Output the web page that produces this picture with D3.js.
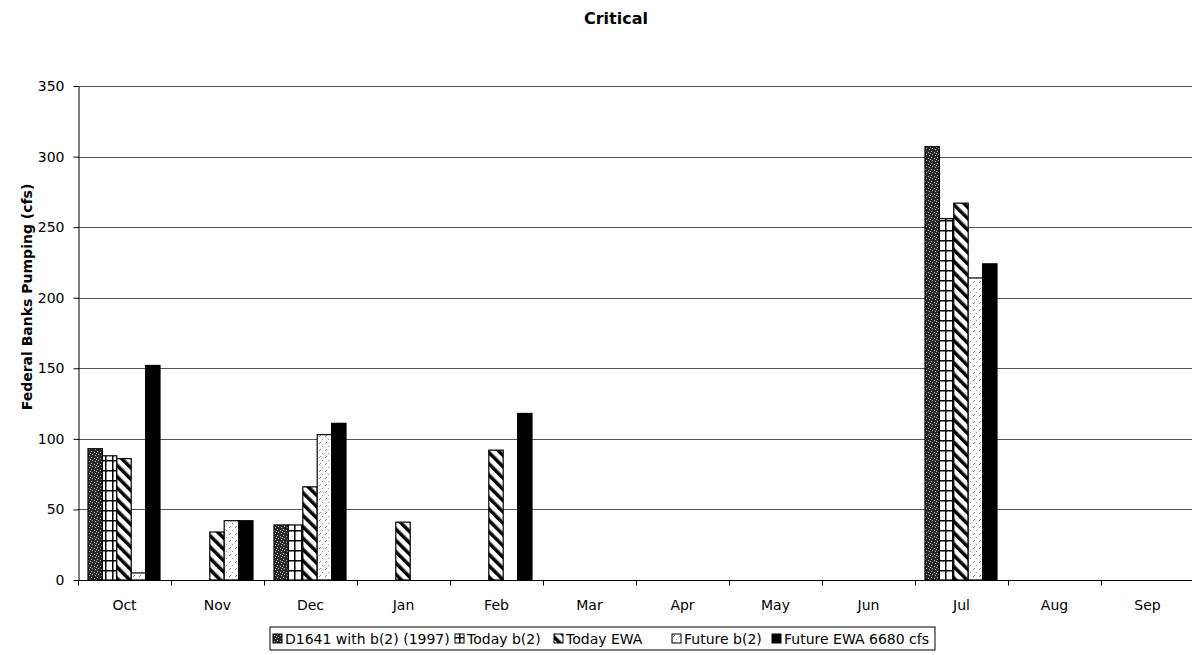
<!DOCTYPE html>
<html>
<head>
<meta charset="utf-8">
<script src="https://cdn.jsdelivr.net/npm/d3@7/dist/d3.min.js"></script>
<style>
  body { margin: 0; background: #fff; }
  svg { display: block; font-family: "DejaVu Sans", Arial, sans-serif; }
</style>
</head>
<body>
<svg id="chart"></svg>
<script>
// Months on the x axis
const months = ['Oct', 'Nov', 'Dec', 'Jan', 'Feb', 'Mar', 'Apr', 'May', 'Jun', 'Jul', 'Aug', 'Sep'];
const seriesNames = ['D1641 with b(2) (1997)', 'Today b(2)', 'Today EWA', 'Future b(2)', 'Future EWA 6680 cfs'];

// Values (cfs)
const d1641 = [93, 0, 39, 0, 0, 0, 0, 0, 0, 307, 0, 0];
const todayB2 = [88, 0, 39, 0, 0, 0, 0, 0, 0, 256, 0, 0];
const todayEWA = [86, 34, 66, 41, 92, 0, 0, 0, 0, 267, 0, 0];
const futureB2 = [5, 42, 103, 0, 0, 0, 0, 0, 0, 214, 0, 0];
const futureEWA = [152, 42, 111, 0, 118, 0, 0, 0, 0, 224, 0, 0];
const yTicks = [0, 50, 100, 150, 200, 250, 300, 350];

const allSeries = [d1641, todayB2, todayEWA, futureB2, futureEWA];

function drawChart() {
    const svg = d3.select('#chart');
    svg.selectAll('*').remove();

    const width = 1192;
    const height = 655;
    const margin = { top: 86, right: -2, bottom: 75, left: 78 };

    svg.attr('width', width).attr('height', height);

    // Fill patterns, one per series
    const defs = svg.append('defs');

    // dark stipple
    const p0 = defs.append('pattern').attr('id', 'pat0')
        .attr('patternUnits', 'userSpaceOnUse').attr('width', 6).attr('height', 6);
    p0.append('rect').attr('width', 6).attr('height', 6).attr('fill', '#2a2a2a');
    [[1, 1], [4, 2], [2, 4], [5, 5], [0, 3]].forEach(([px, py]) => {
        p0.append('rect').attr('x', px).attr('y', py).attr('width', 1).attr('height', 1).attr('fill', '#bbb');
    });

    // grid squares
    const p1 = defs.append('pattern').attr('id', 'pat1')
        .attr('patternUnits', 'userSpaceOnUse').attr('width', 7).attr('height', 10);
    p1.append('rect').attr('width', 7).attr('height', 10).attr('fill', '#fff');
    p1.append('rect').attr('x', 0).attr('y', 0).attr('width', 7).attr('height', 1.5).attr('fill', '#000');
    p1.append('rect').attr('x', 0).attr('y', 0).attr('width', 1.5).attr('height', 10).attr('fill', '#000');

    // diagonal hatch "\"
    const p2 = defs.append('pattern').attr('id', 'pat2')
        .attr('patternUnits', 'userSpaceOnUse').attr('width', 8).attr('height', 8)
        .attr('patternTransform', 'rotate(-45)');
    p2.append('rect').attr('width', 8).attr('height', 8).attr('fill', '#fff');
    p2.append('rect').attr('x', 0).attr('y', 0).attr('width', 3.5).attr('height', 8).attr('fill', '#000');

    // light dotted
    const p3 = defs.append('pattern').attr('id', 'pat3')
        .attr('patternUnits', 'userSpaceOnUse').attr('width', 6).attr('height', 7);
    p3.append('rect').attr('width', 6).attr('height', 7).attr('fill', '#fff');
    p3.append('line').attr('x1', 1).attr('y1', 3).attr('x2', 3).attr('y2', 1)
        .attr('stroke', '#888').attr('stroke-width', 1);
    p3.append('rect').attr('x', 4).attr('y', 5).attr('width', 1).attr('height', 1).attr('fill', '#999');

    const fills = ['url(#pat0)', 'url(#pat1)', 'url(#pat2)', 'url(#pat3)', '#000'];

    // Scales
    const x = d3.scaleBand()
        .domain(months)
        .range([margin.left, width - margin.right])
        .paddingInner(0)
        .paddingOuter(0);

    const xs = d3.scaleBand()
        .domain(d3.range(seriesNames.length))
        .range([10, x.bandwidth() - 11])
        .padding(0);

    const y = d3.scaleLinear()
        .domain([0, 350])
        .range([height - margin.bottom, margin.top]);

    // Gridlines
    svg.append('g')
        .selectAll('line')
        .data(yTicks.filter(d => d > 0))
        .join('line')
        .attr('x1', margin.left)
        .attr('x2', width)
        .attr('y1', d => Math.round(y(d)) + 0.5)
        .attr('y2', d => Math.round(y(d)) + 0.5)
        .attr('stroke', '#555')
        .attr('stroke-width', 1);

    // Bars
    const groups = svg.append('g')
        .selectAll('g')
        .data(allSeries)
        .join('g')
        .attr('fill', (d, i) => fills[i]);

    groups.each(function (vals, si) {
        d3.select(this).selectAll('rect')
            .data(vals.map((v, mi) => ({ month: months[mi], value: v })).filter(d => d.value > 0))
            .join('rect')
            .attr('x', d => x(d.month) + xs(si))
            .attr('width', xs.bandwidth())
            .attr('y', d => y(d.value))
            .attr('height', d => y(0) - y(d.value))
            .attr('stroke', '#000')
            .attr('stroke-width', 1.2);
    });

    // Y axis
    const yAxis = svg.append('g')
        .attr('transform', `translate(${margin.left + 0.5},0)`)
        .call(d3.axisLeft(y).tickValues(yTicks).tickSize(5).tickSizeOuter(0));
    yAxis.select('.domain').attr('stroke', '#000');
    yAxis.selectAll('.tick line').attr('stroke', '#000');
    yAxis.selectAll('text')
        .attr('font-size', 14)
        .attr('font-family', '"DejaVu Sans", Arial, sans-serif')
        .attr('fill', '#000')
        .attr('x', -14);

    // X axis
    const xAxisG = svg.append('g')
        .attr('transform', `translate(0,${y(0) + 0.5})`);
    xAxisG.append('line')
        .attr('x1', margin.left).attr('x2', width)
        .attr('stroke', '#000');
    xAxisG.selectAll('.tk')
        .data(months)
        .join('line')
        .attr('class', 'tk')
        .attr('x1', d => Math.round(x(d)) + 0.5)
        .attr('x2', d => Math.round(x(d)) + 0.5)
        .attr('y1', 0).attr('y2', 5)
        .attr('stroke', '#000');
    xAxisG.selectAll('text')
        .data(months)
        .join('text')
        .attr('x', d => x(d) + x.bandwidth() / 2)
        .attr('y', 29)
        .attr('text-anchor', 'middle')
        .attr('font-size', 14)
        .text(d => d);

    // Title
    svg.append('text')
        .attr('x', 616)
        .attr('y', 24)
        .attr('text-anchor', 'middle')
        .attr('font-size', 16)
        .attr('font-weight', 'bold')
        .text('Critical');

    // Y axis title
    svg.append('text')
        .attr('transform', `translate(32,297) rotate(-90)`)
        .attr('text-anchor', 'middle')
        .attr('font-size', 14)
        .attr('font-weight', 'bold')
        .text('Federal Banks Pumping (cfs)');

    // Legend (swatch offsets follow the spacing of the original)
    const legendLeft = 270;
    const swatchX = [3, 185, 284, 402, 502];
    const legend = svg.append('g').attr('transform', `translate(${legendLeft},627)`);
    const legendBox = legend.append('rect')
        .attr('x', 0).attr('y', 0).attr('height', 23)
        .attr('fill', '#fff').attr('stroke', '#000');
    let lastEnd = 0;
    seriesNames.forEach((name, i) => {
        legend.append('rect')
            .attr('x', swatchX[i]).attr('y', 7)
            .attr('width', 9).attr('height', 9)
            .attr('fill', fills[i])
            .attr('stroke', '#000');
        const t = legend.append('text')
            .attr('x', swatchX[i] + 12).attr('y', 17)
            .attr('font-size', 14)
            .text(name);
        lastEnd = swatchX[i] + 12 + t.node().getComputedTextLength();
    });
    legendBox.attr('width', lastEnd + 6);
}

document.addEventListener('DOMContentLoaded', drawChart);
</script>
</body>
</html>
